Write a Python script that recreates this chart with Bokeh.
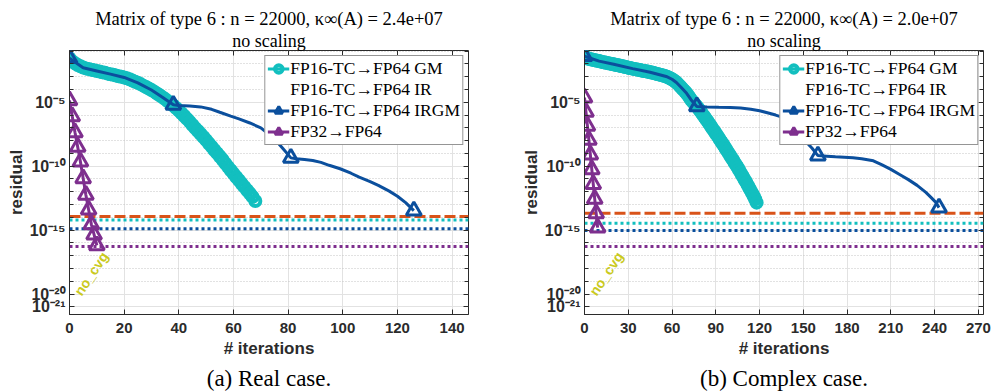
from bokeh.plotting import figure
from bokeh.layouts import row
from bokeh.models import (FixedTicker, Span, Label, Legend, LegendItem, LinearAxis,
                          LogAxis, Title, Range1d, CustomJSTickFormatter)
from bokeh.embed import file_html
from bokeh.resources import INLINE

# ---------------------------------------------------------------- colours / fonts
CYAN = "#12BFBF"
BLUE = "#0B4F9D"
PURPLE = "#7E2F8E"
ORANGE = "#D95319"
YELLOW = "#CACA1E"
AXIS = "#2b2b2b"
SANS = "Liberation Sans"
SERIF = "Liberation Serif"

# ---------------------------------------------------------------- shared axis setup (log10 exponents)
Y_LOG_MIN, Y_LOG_MAX = -21.6, -0.95
y_major_exp = [-21, -20, -15, -10, -5]
y_minor_exp = list(range(-21, 0))

legend_labels = ["FP16-TC\u2192FP64 GM", "FP16-TC\u2192FP64 IR",
                 "FP16-TC\u2192FP64 IRGM", "FP32\u2192FP64"]

# ---------------------------------------------------------------- real case (log10 of residual)
real_title = "Matrix of type 6 : n = 22000, \u03ba\u221e(A) = 2.4e+07"
real_caption = "(a) Real case."
real_x_max = 146
real_x_ticks = [0, 20, 40, 60, 80, 100, 120, 140]

real_gm_res = [
    -1.55, -1.80, -1.95, -2.08, -2.18, -2.28, -2.35, -2.40, -2.45, -2.50,
    -2.55, -2.60, -2.66, -2.70, -2.76, -2.81, -2.85, -2.90, -2.96, -3.00,
    -3.06, -3.13, -3.20, -3.30, -3.39, -3.48, -3.58, -3.70, -3.80, -3.92,
    -4.04, -4.17, -4.31, -4.45, -4.60, -4.75, -4.92, -5.07, -5.25, -5.45,
    -5.65, -5.86, -6.07, -6.30, -6.53, -6.78, -7.02, -7.25, -7.48, -7.72,
    -7.96, -8.22, -8.47, -8.73, -8.98, -9.24, -9.50, -9.78, -10.05, -10.32,
    -10.58, -10.84, -11.10, -11.37, -11.62, -11.88, -12.14, -12.40, -12.72,
]
real_irgm_it = [0, 5, 10, 15, 20, 25, 30, 34, 38, 40, 44, 48, 52, 55, 59, 62, 66, 70,
                73, 76, 78, 81, 83, 86, 89, 92, 95, 99, 103, 106, 110, 113, 117, 120,
                123, 126]
real_irgm_res = [-1.55, -2.30, -2.55, -2.80, -3.06, -3.48, -4.04, -4.60, -5.20, -5.26,
                 -5.30, -5.36, -5.55, -5.78, -6.08, -6.30, -6.62, -7.00, -7.50, -8.10,
                 -8.60, -9.35, -9.42, -9.48, -9.56, -9.70, -9.93, -10.20, -10.55,
                 -10.86, -11.20, -11.50, -11.95, -12.35, -12.85, -13.47]
real_irgm_outer_it = [0, 38, 81, 126]
real_irgm_outer_res = [-1.55, -5.20, -9.35, -13.47]
real_fp32_res = [-4.86, -6.10, -7.35, -8.50, -9.65, -10.95, -12.25, -13.40, -14.55,
                 -15.35, -16.20]
real_ir_it = []
real_ir_res = []
# attainable-accuracy levels: IR (orange), GM (cyan), IRGM (blue), FP32 (purple)
real_limits = [-13.94, -14.20, -14.90, -16.29]

# ---------------------------------------------------------------- complex case (log10 of residual)
cplx_title = "Matrix of type 6 : n = 22000, \u03ba\u221e(A) = 2.0e+07"
cplx_caption = "(b) Complex case."
cplx_x_max = 273.5
cplx_x_ticks = [0, 30, 60, 90, 120, 150, 180, 210, 240, 270]

cplx_gm_res = [
    -1.40, -1.50, -1.56, -1.60, -1.63, -1.66, -1.68, -1.71, -1.73, -1.76,
    -1.78, -1.81, -1.84, -1.86, -1.89, -1.91, -1.94, -1.96, -1.98, -2.01,
    -2.03, -2.06, -2.08, -2.11, -2.13, -2.16, -2.18, -2.21, -2.24, -2.26,
    -2.29, -2.32, -2.34, -2.37, -2.39, -2.41, -2.44, -2.46, -2.48, -2.51,
    -2.53, -2.55, -2.57, -2.60, -2.62, -2.65, -2.68, -2.70, -2.73, -2.76,
    -2.79, -2.82, -2.85, -2.88, -2.91, -2.94, -2.98, -3.03, -3.08, -3.14,
    -3.20, -3.28, -3.36, -3.45, -3.56, -3.68, -3.80, -3.93, -4.05, -4.18,
    -4.30, -4.46, -4.63, -4.80, -4.93, -5.06, -5.20, -5.33, -5.48, -5.63,
    -5.79, -5.95, -6.11, -6.27, -6.43, -6.60, -6.76, -6.93, -7.10, -7.27,
    -7.44, -7.61, -7.78, -7.96, -8.13, -8.30, -8.48, -8.66, -8.84, -9.02,
    -9.20, -9.38, -9.56, -9.74, -9.92, -10.10, -10.30, -10.50, -10.70, -10.90,
    -11.10, -11.30, -11.50, -11.72, -11.93, -12.14, -12.35, -12.58, -12.85,
]
cplx_irgm_it = [0, 10, 20, 33, 45, 56, 60, 63, 66, 70, 73, 77, 84, 92, 100, 107, 114,
                120, 126, 131, 136, 140, 144, 148, 152, 156, 160, 166, 172, 178, 184,
                190, 198, 204, 210, 216, 222, 228, 234, 238, 241, 243]
cplx_irgm_res = [-1.40, -1.78, -2.03, -2.37, -2.65, -2.98, -3.20, -3.45, -3.80, -4.30,
                 -4.80, -5.33, -5.36, -5.39, -5.41, -5.44, -5.55, -5.66, -5.84, -6.00,
                 -6.18, -6.55, -7.05, -7.60, -8.10, -8.60, -9.17, -9.22, -9.27, -9.30,
                 -9.34, -9.42, -9.58, -9.90, -10.25, -10.65, -11.05, -11.50, -12.05,
                 -12.50, -12.85, -13.24]
cplx_irgm_outer_it = [0, 77, 160, 243]
cplx_irgm_outer_res = [-1.40, -5.33, -9.17, -13.24]
cplx_fp32_res = [-4.63, -5.75, -6.85, -7.95, -9.10, -10.25, -11.40, -12.55, -13.70,
                 -14.80]
cplx_ir_it = []
cplx_ir_res = []
cplx_limits = [-13.68, -14.46, -15.03, -16.29]

# 10^e labels with superscript exponents
POW10_FORMATTER = """
const sup = {"-": "\u207b", "0": "\u2070", "1": "\u00b9", "2": "\u00b2", "3": "\u00b3",
             "4": "\u2074", "5": "\u2075", "6": "\u2076", "7": "\u2077", "8": "\u2078",
             "9": "\u2079"};
const e = Math.round(Math.log10(tick));
return "10" + String(e).split("").map((c) => sup[c]).join("");
"""


def pow10(vals):
    return [10.0 ** v for v in vals]


def build_panel(title, caption, x_max, x_ticks, gm_res, irgm_it, irgm_res,
                irgm_out_it, irgm_out_res, fp32_res, ir_it, ir_res, limits,
                border_left, border_right):
    p = figure(frame_width=399, frame_height=264,
               x_range=Range1d(0, x_max),
               y_range=Range1d(10 ** Y_LOG_MIN, 10 ** Y_LOG_MAX),
               y_axis_type="log", output_backend="svg", toolbar_location=None,
               min_border_left=border_left, min_border_right=border_right,
               min_border_top=50, min_border_bottom=78,
               background_fill_color="white", border_fill_color="white")
    p.outline_line_color = AXIS
    p.outline_line_width = 1

    # ---- axes
    x_ticker = FixedTicker(ticks=x_ticks)
    y_ticker = FixedTicker(ticks=pow10(y_major_exp), minor_ticks=pow10(y_minor_exp))

    xa = p.xaxis[0]
    xa.ticker = x_ticker
    xa.major_tick_in, xa.major_tick_out = 5, 0
    xa.minor_tick_line_color = None
    xa.axis_line_color = AXIS
    xa.major_tick_line_color = AXIS
    xa.major_label_text_font = SANS
    xa.major_label_text_font_style = "bold"
    xa.major_label_text_font_size = "15px"
    xa.major_label_text_color = AXIS
    xa.major_label_standoff = 8
    xa.axis_label = "# iterations"
    xa.axis_label_text_font = SANS
    xa.axis_label_text_font_style = "bold"
    xa.axis_label_text_font_size = "17px"
    xa.axis_label_text_color = AXIS
    xa.axis_label_standoff = 3

    ya = p.yaxis[0]
    ya.ticker = y_ticker
    ya.formatter = CustomJSTickFormatter(code=POW10_FORMATTER)
    ya.major_label_text_font = SANS
    ya.major_label_text_font_style = "bold"
    ya.major_label_text_font_size = "16px"
    ya.major_label_text_color = AXIS
    ya.major_label_standoff = 4
    ya.major_tick_in, ya.major_tick_out = 5, 0
    ya.minor_tick_in, ya.minor_tick_out = 4, 0
    ya.axis_line_color = AXIS
    ya.major_tick_line_color = AXIS
    ya.minor_tick_line_color = AXIS
    ya.axis_label = "residual"
    ya.axis_label_text_font = SANS
    ya.axis_label_text_font_style = "bold"
    ya.axis_label_text_font_size = "17px"
    ya.axis_label_text_color = AXIS
    ya.axis_label_standoff = 1

    top = LinearAxis(ticker=x_ticker, formatter=CustomJSTickFormatter(code="return ''"),
                     major_label_text_font_size="0px", major_label_standoff=0,
                     major_tick_in=5, major_tick_out=0, minor_tick_line_color=None,
                     axis_line_color=None, major_tick_line_color=AXIS)
    p.add_layout(top, "above")
    right = LogAxis(ticker=y_ticker, formatter=CustomJSTickFormatter(code="return ''"),
                    major_label_text_font_size="0px", major_label_standoff=0,
                    major_tick_in=5, major_tick_out=0, minor_tick_in=4, minor_tick_out=0,
                    axis_line_color=None, major_tick_line_color=AXIS,
                    minor_tick_line_color=AXIS)
    p.add_layout(right, "right")

    # ---- grid
    p.xgrid.grid_line_color = "#e2e2e2"
    p.ygrid.grid_line_color = "#e2e2e2"
    p.ygrid.minor_grid_line_color = "#c4c4c4"
    p.ygrid.minor_grid_line_dash = "1 2"

    # ---- attainable-accuracy levels
    styles = [(ORANGE, "11 4"), (CYAN, "3 3"), (BLUE, "3 3"), (PURPLE, "3 3")]
    for lvl, (col, dash) in zip(limits, styles):
        p.add_layout(Span(location=10.0 ** lvl, dimension="width", line_color=col,
                          line_width=3, line_dash=dash, level="underlay"))

    # ---- series
    gm_it = list(range(len(gm_res)))
    gm_line = p.line(gm_it, pow10(gm_res), line_color=CYAN, line_width=3)
    gm_pts = p.scatter(gm_it, pow10(gm_res), marker="circle", size=10,
                       line_color=CYAN, line_width=4, fill_color=None)

    ir_line = p.line(ir_it, pow10(ir_res), line_color=YELLOW, line_width=1.5)

    irgm_line = p.line(irgm_it, pow10(irgm_res), line_color=BLUE, line_width=3)
    irgm_pts = p.scatter(irgm_out_it, pow10(irgm_out_res), marker="triangle", size=15,
                         line_color=BLUE, line_width=3, fill_color=None)

    fp32_it = list(range(len(fp32_res)))
    fp32_line = p.line(fp32_it, pow10(fp32_res), line_color=PURPLE, line_width=3)
    fp32_pts = p.scatter(fp32_it, pow10(fp32_res), marker="triangle", size=15,
                         line_color=PURPLE, line_width=3, fill_color=None)

    p.add_layout(Label(x=0, y=1e-20, x_offset=8, text="no_cvg", angle=56,
                       angle_units="deg", text_baseline="middle", text_font=SANS,
                       text_font_style="bold", text_font_size="14px",
                       text_color=YELLOW))

    legend = Legend(items=[
        LegendItem(label=legend_labels[0], renderers=[gm_line, gm_pts]),
        LegendItem(label=legend_labels[1], renderers=[ir_line]),
        LegendItem(label=legend_labels[2], renderers=[irgm_line, irgm_pts]),
        LegendItem(label=legend_labels[3], renderers=[fp32_line, fp32_pts]),
    ], location="top_right", margin=5, padding=2, spacing=0,
        glyph_width=22, glyph_height=19, label_height=19, label_standoff=1,
        label_text_font=SERIF, label_text_font_size="17.5px", label_text_color="black",
        border_line_color=AXIS, border_line_width=1, background_fill_alpha=1)
    p.add_layout(legend)

    # ---- titles and caption
    p.add_layout(Title(text="no scaling", align="center", text_font=SERIF,
                       text_font_size="18px", text_font_style="normal",
                       text_color="black", standoff=0), "above")
    p.add_layout(Title(text=title, align="center", text_font=SERIF,
                       text_font_size="18.5px", text_font_style="normal",
                       text_color="black", standoff=0), "above")
    p.add_layout(Title(text=caption, align="center", text_font=SERIF,
                       text_font_size="23px", text_font_style="normal",
                       text_color="black", standoff=6), "below")
    return p


p_real = build_panel(real_title, real_caption, real_x_max, real_x_ticks, real_gm_res,
                     real_irgm_it, real_irgm_res, real_irgm_outer_it, real_irgm_outer_res,
                     real_fp32_res, real_ir_it, real_ir_res, real_limits, 69, 30)
p_cplx = build_panel(cplx_title, cplx_caption, cplx_x_max, cplx_x_ticks, cplx_gm_res,
                     cplx_irgm_it, cplx_irgm_res, cplx_irgm_outer_it, cplx_irgm_outer_res,
                     cplx_fp32_res, cplx_ir_it, cplx_ir_res, cplx_limits, 86, 13)

layout = row(p_real, p_cplx)
open("out.html", "w").write(file_html(layout, INLINE))
